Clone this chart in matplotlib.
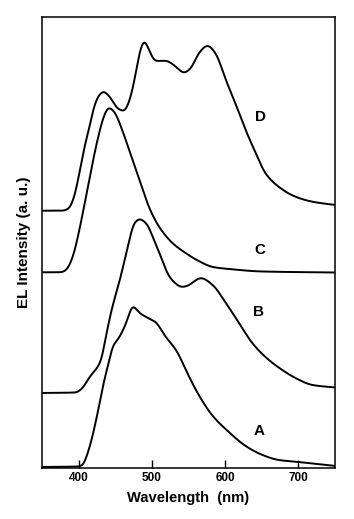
import numpy as np
import matplotlib
matplotlib.use('Agg')
from matplotlib import pyplot as plt

plt.rcParams['font.family'] = ['Liberation Sans', 'DejaVu Sans']

# spectra, wavelength (nm) vs intensity (arb. offset units)
wl_a = [350, 400, 405, 415, 426, 435, 442, 446, 455, 465, 474, 483, 495, 505, 519,
        533, 551, 564, 582, 605, 628, 651, 673, 700, 750]
int_a = [1, 1.5, 2.5, 21, 55, 88, 108, 121, 130, 145, 162, 155, 150, 146, 131,
         118, 91, 73, 53, 36, 22, 13, 8, 6, 2]

wl_b = [350, 396, 405, 415, 426, 431, 437, 446, 457, 467, 476, 483, 492, 503, 514,
        521, 530, 541, 548, 567, 583, 601, 619, 637, 655, 678, 696, 719, 750]
int_b = [75, 75.5, 79.7, 91, 101, 108, 131, 161, 190, 221, 245, 249, 245, 228, 208,
         195, 186, 181, 182, 190, 183, 165, 145, 125, 111, 98, 90, 83, 80.5]

wl_c = [350, 376, 383, 392, 401, 410, 419, 428, 435, 441, 449, 458, 469, 483, 496,
        510, 528, 546, 564, 583, 605, 651, 750]
int_c = [195.7, 195.7, 198, 211, 238, 271, 305, 335, 353, 360.5, 356, 341, 318, 288, 261,
         241, 225, 215, 207, 201, 199, 196.5, 195.5]

wl_d = [350, 378, 387, 394, 401, 408, 415, 421, 428, 434, 444, 453, 462, 471, 478,
        484, 490, 496, 505, 519, 530, 544, 553, 564, 576, 587, 601, 614, 628, 642,
        655, 673, 696, 719, 750]
int_d = [257.3, 257.3, 259.7, 271.3, 294.7, 321.3, 341.3, 361.3, 373, 376.5, 369.7, 359.7, 357, 371, 395,
         418, 427.5, 418, 407, 407.3, 403, 395.3, 399.7, 414.7, 422.5, 414.7, 388, 364.7, 338, 314.7,
         294.7, 281.3, 271.3, 266.3, 263]

labels = ['A', 'B', 'C', 'D']
label_x = [646, 645, 648, 648]
label_y = [37, 156, 218, 351]


def smooth(x, y, n=800, sigma=2.5):
    # monotone cubic through the read points, then a light gaussian blur
    x = np.asarray(x, float)
    y = np.asarray(y, float)
    h = np.diff(x)
    d = np.diff(y) / h
    m = np.zeros_like(y)
    m[0], m[-1] = d[0], d[-1]
    for i in range(1, len(y) - 1):
        if d[i - 1] * d[i] > 0:
            w1 = 2 * h[i] + h[i - 1]
            w2 = h[i] + 2 * h[i - 1]
            m[i] = (w1 + w2) / (w1 / d[i - 1] + w2 / d[i])
    xs = np.linspace(x[0], x[-1], n)
    k = np.clip(np.searchsorted(x, xs) - 1, 0, len(x) - 2)
    t = (xs - x[k]) / h[k]
    h00 = 2 * t**3 - 3 * t**2 + 1
    h10 = t**3 - 2 * t**2 + t
    h01 = -2 * t**3 + 3 * t**2
    h11 = t**3 - t**2
    ys = h00 * y[k] + h10 * h[k] * m[k] + h01 * y[k + 1] + h11 * h[k] * m[k + 1]
    step = xs[1] - xs[0]
    half = int(4 * sigma / step)
    ker = np.exp(-0.5 * (np.arange(-half, half + 1) * step / sigma) ** 2)
    ker /= ker.sum()
    ys = np.convolve(np.pad(ys, half, mode='edge'), ker, mode='valid')
    return xs, ys


fig = plt.figure(figsize=(3.54, 5.19), dpi=100)
ax = fig.add_axes([0.1186, 0.0983, 0.8277, 0.8689])

for wl, it in [(wl_a, int_a), (wl_b, int_b), (wl_c, int_c), (wl_d, int_d)]:
    xs, ys = smooth(wl, it)
    ax.plot(xs, ys, color='black', lw=1.4)

for lab, lx, ly in zip(labels, label_x, label_y):
    ax.text(lx, ly, lab, fontsize=11, fontweight='bold', ha='center', va='center')

ax.set_xlim(350, 750)
ax.set_ylim(0, 451)
ax.set_xticks([400, 500, 600, 700])
ax.set_yticks([])
ax.tick_params(axis='x', direction='in', length=6, width=1, labelsize=8.5, pad=3)
for lbl in ax.get_xticklabels():
    lbl.set_fontweight('bold')
for sp in ax.spines.values():
    sp.set_linewidth(1.1)

ax.set_xlabel('Wavelength  (nm)', fontsize=10.6, fontweight='bold', labelpad=5)
ax.set_ylabel('EL Intensity (a. u.)', fontsize=11, fontweight='bold', labelpad=8)

plt.savefig('out.png', dpi=100)
